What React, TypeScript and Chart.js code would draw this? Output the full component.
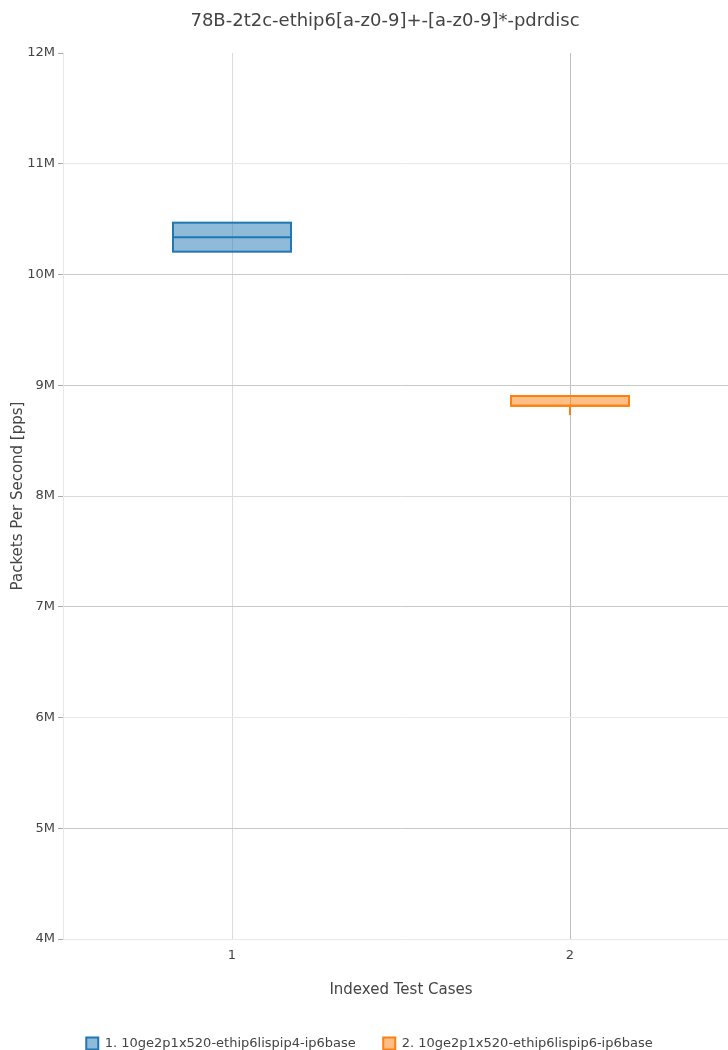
import React, { useEffect, useRef } from 'react';
import { Chart, registerables } from 'chart.js';

Chart.register(...registerables);

const chartTitle = '78B-2t2c-ethip6[a-z0-9]+-[a-z0-9]*-pdrdisc';
const xAxisTitle = 'Indexed Test Cases';
const yAxisTitle = 'Packets Per Second [pps]';

const categories = ['1', '2'];
const seriesNames = [
  '1. 10ge2p1x520-ethip6lispip4-ip6base',
  '2. 10ge2p1x520-ethip6lispip6-ip6base',
];
const seriesColors = ['#1f77b4', '#ff7f0e'];
const seriesFills = ['rgba(31,119,180,0.5)', 'rgba(255,127,14,0.5)'];

// box statistics (pps)
const minValues = [10.206e6, 8.731e6];
const q1Values = [10.206e6, 8.815e6];
const medianValues = [10.336e6, 8.815e6];
const q3Values = [10.468e6, 8.903e6];
const maxValues = [10.468e6, 8.903e6];

const yMin = 4e6;
const yMax = 12e6;
const yStep = 1e6;

const yGridColors: Record<number, string> = {
  4: '#e8e8e8',
  5: '#c8c8c8',
  6: '#e8e8e8',
  7: '#c8c8c8',
  8: '#dadada',
  9: '#c8c8c8',
  10: '#c8c8c8',
  11: '#e8e8e8',
  12: 'rgba(0,0,0,0)',
};
const xGridColors = ['#dcdcdc', '#bdbdbd'];

// outline (centred on the box edges), median line and whiskers
const boxPlugin = {
  id: 'boxWhiskers',
  afterDatasetsDraw(chart: any) {
    const { ctx } = chart;
    const yScale = chart.scales.y;
    seriesNames.forEach((_, i) => {
      const meta = chart.getDatasetMeta(i);
      const bar = meta.data[i];
      if (!bar) return;
      const { x, width } = bar.getProps(['x', 'width'], true);
      const yq1 = yScale.getPixelForValue(q1Values[i]);
      const yq3 = yScale.getPixelForValue(q3Values[i]);
      const ym = yScale.getPixelForValue(medianValues[i]);
      const ymin = yScale.getPixelForValue(minValues[i]);
      const ymax = yScale.getPixelForValue(maxValues[i]);
      ctx.save();
      ctx.strokeStyle = seriesColors[i];
      ctx.lineWidth = 2;
      ctx.strokeRect(x - width / 2, yq3, width, yq1 - yq3);
      ctx.beginPath();
      ctx.moveTo(x - width / 2, ym);
      ctx.lineTo(x + width / 2, ym);
      ctx.stroke();
      if (ymin - yq1 > 0.5) {
        ctx.beginPath();
        ctx.moveTo(x, yq1);
        ctx.lineTo(x, ymin);
        ctx.stroke();
      }
      if (yq3 - ymax > 0.5) {
        ctx.beginPath();
        ctx.moveTo(x, yq3);
        ctx.lineTo(x, ymax);
        ctx.stroke();
      }
      ctx.restore();
    });
  },
};

// centre the title over the whole figure width (plot extends past the right edge)
const titleShift = {
  id: 'titleShift',
  afterLayout(chart: any) {
    const t = chart.titleBlock;
    if (t) {
      t.left += 15.5;
      t.right += 15.5;
    }
  },
};

export default function App() {
  const canvasRef = useRef<HTMLCanvasElement | null>(null);

  useEffect(() => {
    if (!canvasRef.current) return;
    Chart.defaults.font.family = "'DejaVu Sans', sans-serif";
    const defaultLabels = Chart.defaults.plugins.legend.labels.generateLabels;
    const chart = new Chart(canvasRef.current, {
      type: 'bar',
      data: {
        labels: categories,
        datasets: seriesNames.map((name, i) => ({
          label: name,
          data: categories.map((_, j) => (j === i ? [q1Values[i], q3Values[i]] : null)),
          backgroundColor: seriesFills[i],
          borderColor: seriesColors[i],
          borderWidth: 0,
          borderSkipped: false,
          grouped: false,
          categoryPercentage: 1,
          barPercentage: 0.349,
        })) as any,
      },
      options: {
        responsive: false,
        animation: false,
        layout: { padding: { left: 0, right: 31, top: 0, bottom: 0 } },
        plugins: {
          title: {
            display: true,
            text: chartTitle,
            color: '#444',
            font: { size: 18, weight: 'normal' },
            padding: { top: 10.2, bottom: 21.2 },
          },
          legend: {
            position: 'bottom',
            labels: {
              boxWidth: 12,
              boxHeight: 12,
              padding: 27.5,
              color: '#444',
              font: { size: 13 },
              generateLabels: (ch: any) =>
                defaultLabels(ch).map((item: any, k: number) => ({
                  ...item,
                  lineWidth: 2,
                  strokeStyle: seriesColors[k],
                })),
            },
          },
          tooltip: { enabled: false },
        },
        scales: {
          x: {
            type: 'category',
            offset: true,
            grid: {
              offset: false,
              drawTicks: false,
              color: (c: any) => xGridColors[c.index] ?? '#ddd',
            },
            border: { display: true, color: '#e8e8e8' },
            ticks: { color: '#444', font: { size: 13 }, padding: 8.5 },
            title: {
              display: true,
              text: xAxisTitle,
              color: '#444',
              font: { size: 15 },
              padding: { top: 0, bottom: 10 },
            },
            afterFit: (s: any) => {
              s.height = 70.5;
            },
          },
          y: {
            min: yMin,
            max: yMax,
            ticks: {
              stepSize: yStep,
              color: '#444',
              font: { size: 13 },
              padding: 3,
              callback: (v: any) => `${Number(v) / 1e6}M`,
            },
            grid: {
              color: (c: any) => yGridColors[Math.round((c.tick?.value ?? 0) / 1e6)] ?? '#e8e8e8',
              tickColor: '#aaa',
              tickLength: 5,
            },
            border: { display: true, color: '#e8e8e8' },
            title: {
              display: true,
              text: yAxisTitle,
              color: '#444',
              font: { size: 15 },
              padding: { top: 9, bottom: 0 },
            },
            afterFit: (s: any) => {
              s.width = 63;
            },
          },
        },
      } as any,
      plugins: [boxPlugin, titleShift],
    });
    return () => chart.destroy();
  }, []);

  return (
    <div
      style={{
        position: 'fixed',
        left: 0,
        top: 0,
        width: 728,
        height: 1050,
        overflow: 'hidden',
        background: '#fff',
      }}
    >
      <canvas
        ref={canvasRef}
        width={770}
        height={1060}
        style={{ display: 'block', width: 770, height: 1060 }}
      />
    </div>
  );
}
